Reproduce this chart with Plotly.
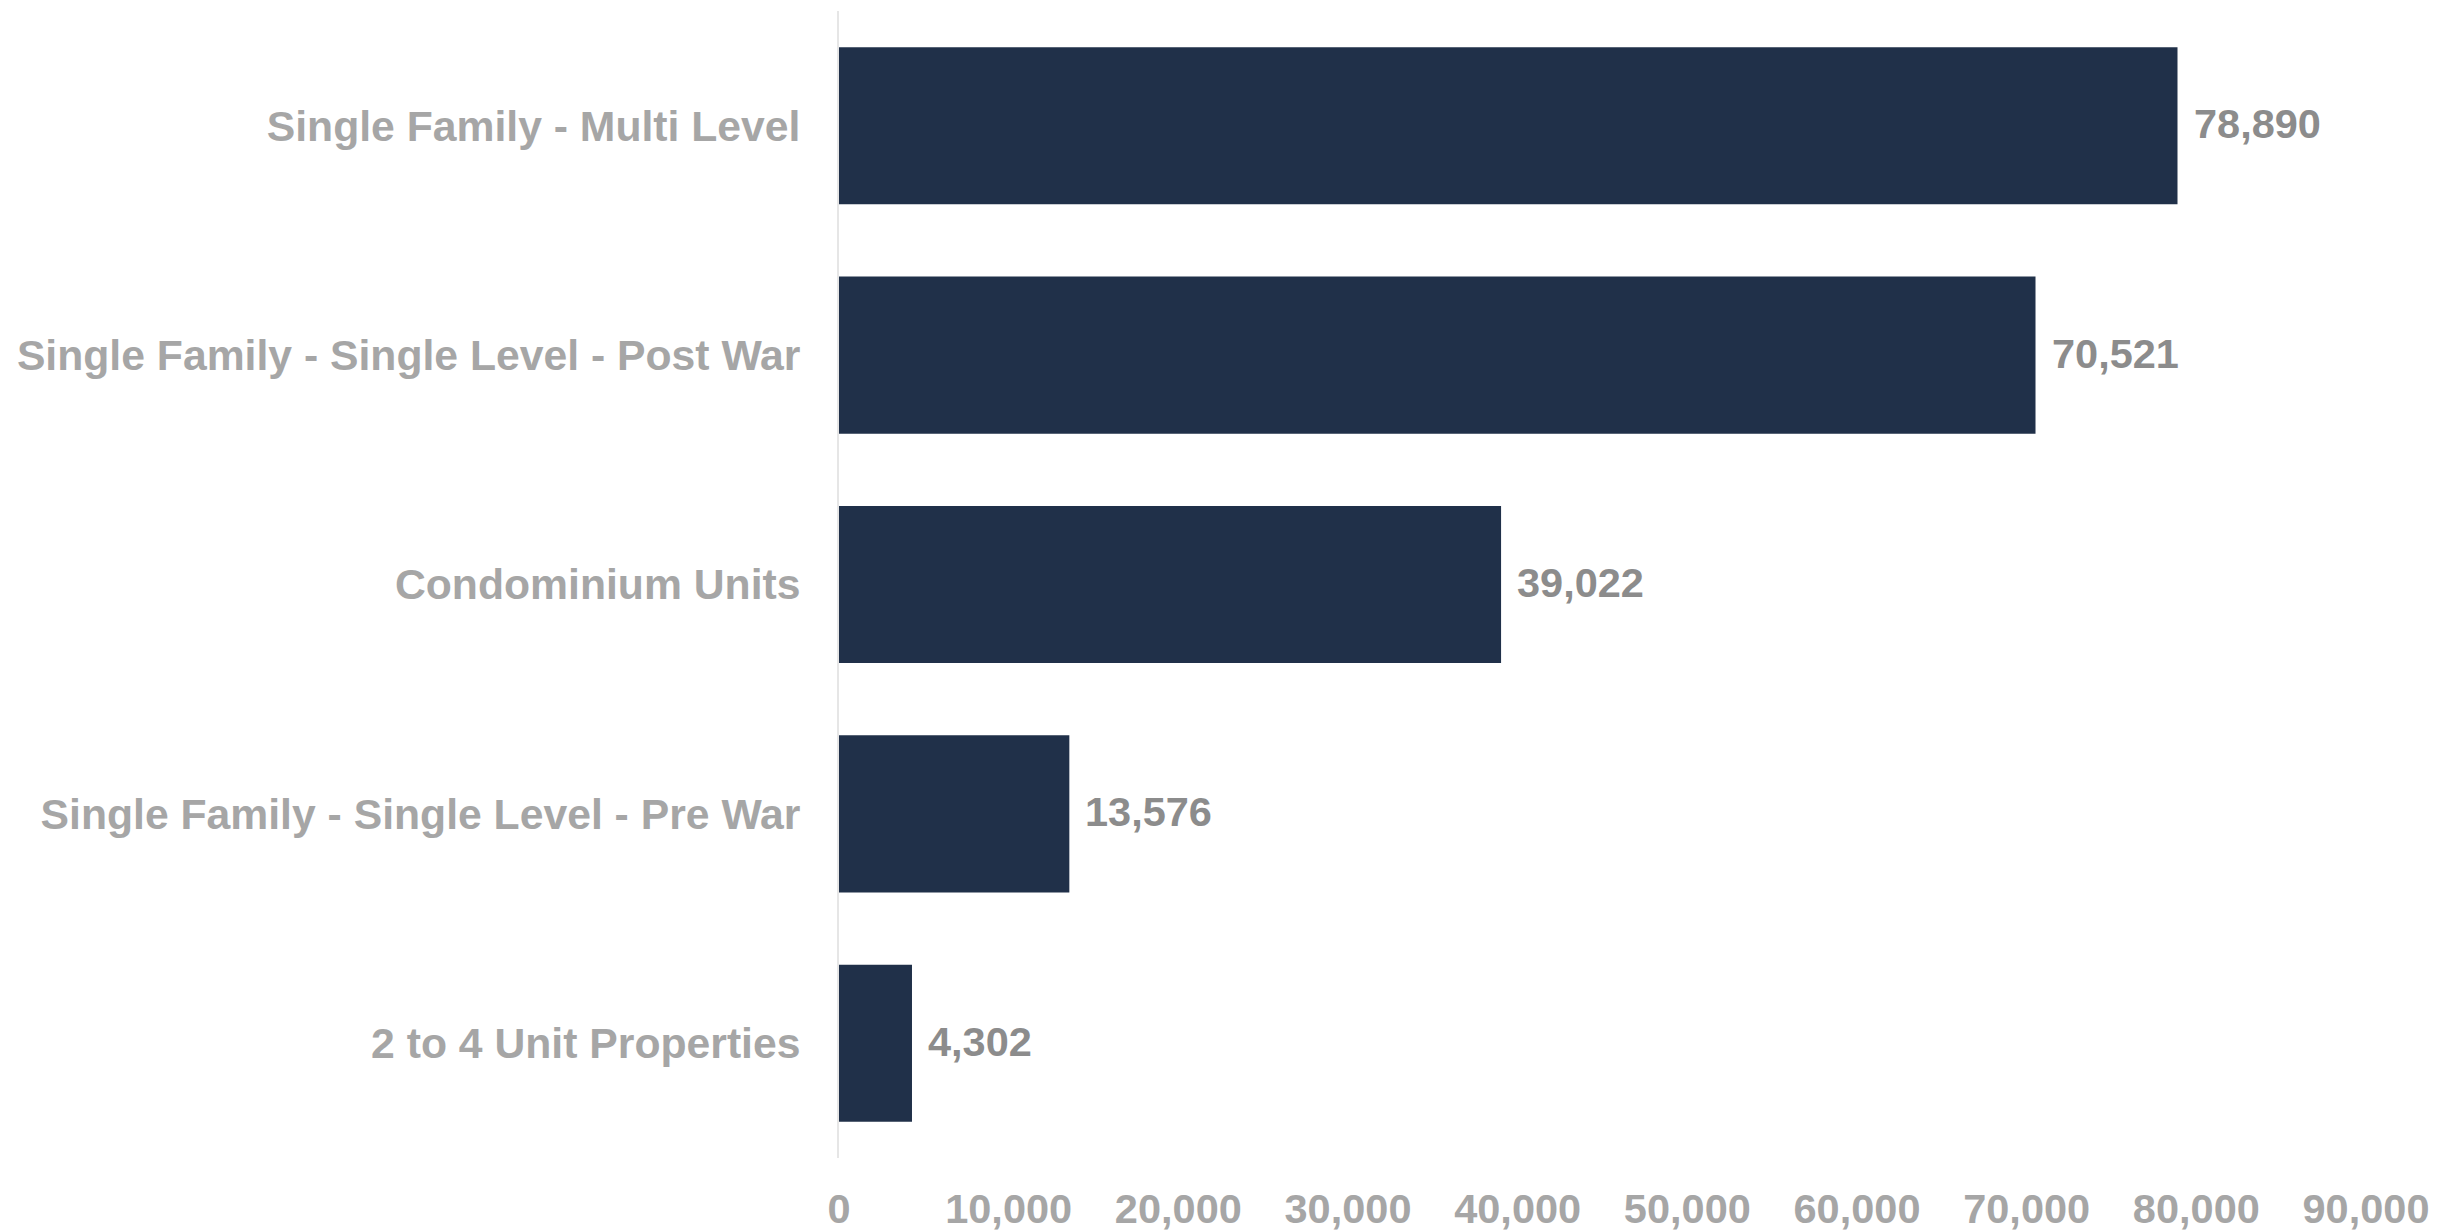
import plotly.graph_objects as go

categories = [
    "Single Family - Multi Level",
    "Single Family - Single Level - Post War",
    "Condominium Units",
    "Single Family - Single Level - Pre War",
    "2 to 4 Unit Properties",
]
values = [78890, 70521, 39022, 13576, 4302]
x_ticks = [0, 10000, 20000, 30000, 40000, 50000, 60000, 70000, 80000, 90000]
x_tick_labels = [f"{v:,}" for v in x_ticks]

FONT = "Liberation Sans, Arial, sans-serif"
BAR = "#203049"
LABEL_GRAY = "#a6a6a6"
VALUE_GRAY = "#8c8c8c"

fig = go.Figure()
fig.add_trace(go.Bar(
    y=categories,
    x=values,
    orientation="h",
    marker=dict(color=BAR, line=dict(width=0)),
    hoverinfo="x+y",
))

for c, v in zip(categories, values):
    fig.add_annotation(
        x=v, y=c, xref="x", yref="y",
        text=f"<b>{v:,}</b>",
        showarrow=False, xanchor="left", yanchor="middle",
        xshift=14, yshift=2,
        font=dict(family=FONT, size=41.5, color=VALUE_GRAY),
    )

fig.update_layout(
    width=2460, height=1230,
    margin=dict(l=839, r=94, t=11, b=72),
    paper_bgcolor="white", plot_bgcolor="white",
    bargap=0.315,
    showlegend=False,
    font=dict(family=FONT, size=42.7, color=LABEL_GRAY),
    xaxis=dict(
        range=[0, 90000],
        tickvals=x_ticks,
        ticktext=[f"<b>{t}</b>" for t in x_tick_labels],
        showgrid=False, zeroline=False, showline=False,
        ticks="", ticklabelstandoff=22,
        tickfont=dict(family=FONT, size=41.5, color=LABEL_GRAY),
        automargin=False,
        fixedrange=True,
    ),
    yaxis=dict(
        categoryorder="array",
        categoryarray=categories[::-1],
        tickvals=categories,
        ticktext=[f"<b>{c}</b>" for c in categories],
        showgrid=False, zeroline=False,
        showline=True, linecolor="#e6e6e6", linewidth=2,
        ticks="", ticklabelstandoff=28,
        tickfont=dict(family=FONT, size=42.7, color=LABEL_GRAY),
        automargin=False,
        fixedrange=True,
    ),
)

fig.write_html(
    "out.html",
    config={"displayModeBar": False},
    post_script="document.body.style.margin='0';document.body.style.overflow='hidden';",
)
